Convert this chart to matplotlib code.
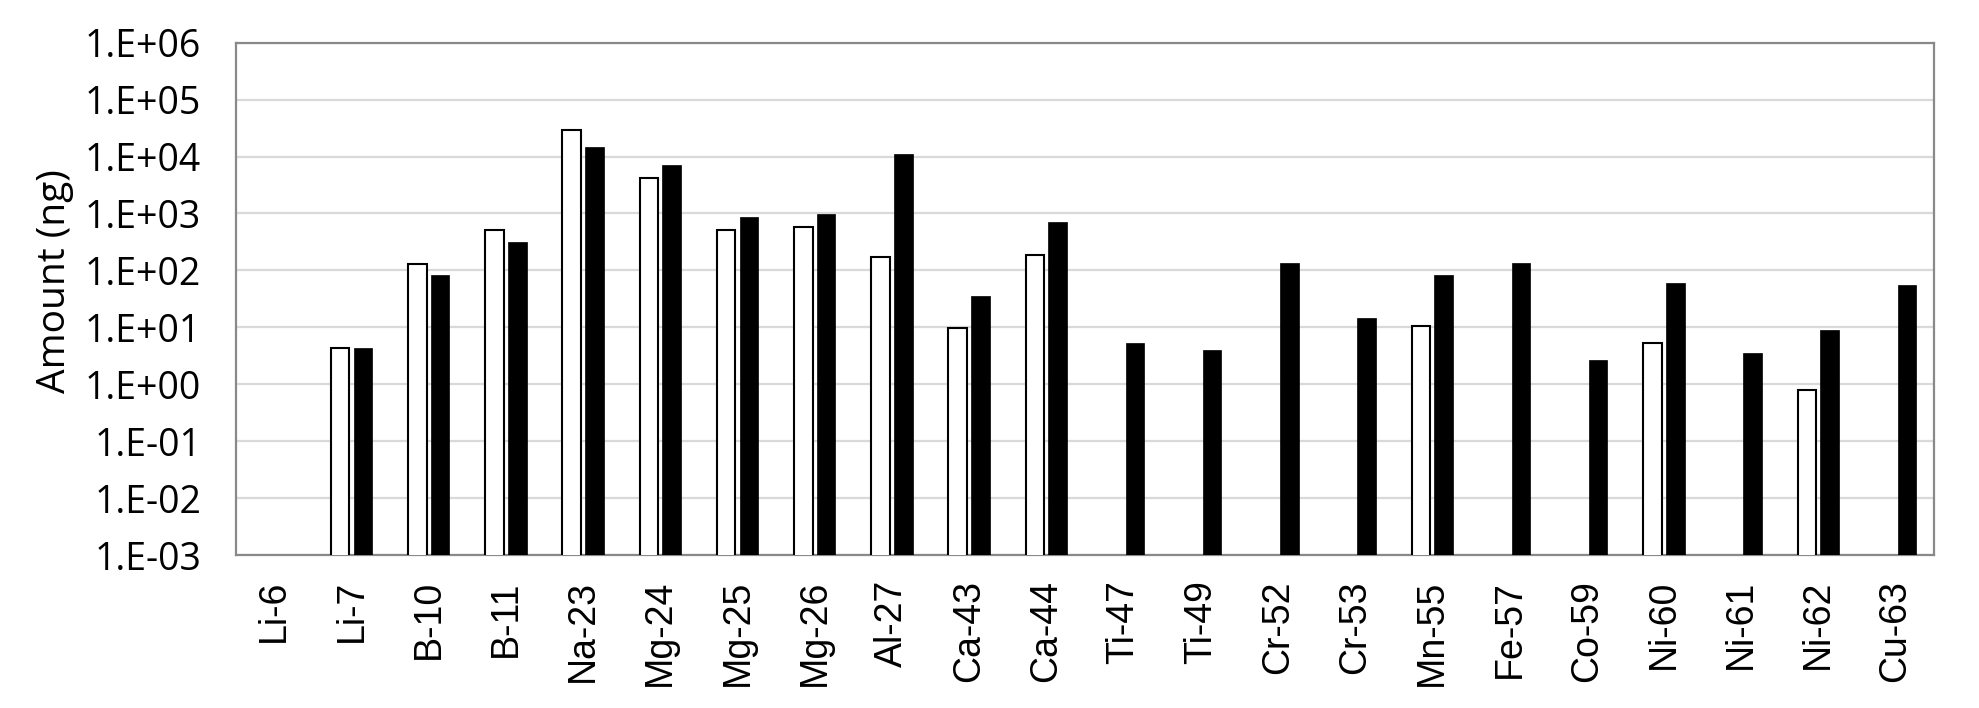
import numpy as np
import matplotlib
matplotlib.use('Agg')
import matplotlib.pyplot as plt
from matplotlib.ticker import FixedLocator, FuncFormatter, NullLocator

nan = np.nan

isotopes = ['Li-6', 'Li-7', 'B-10', 'B-11', 'Na-23', 'Mg-24', 'Mg-25', 'Mg-26',
            'Al-27', 'Ca-43', 'Ca-44', 'Ti-47', 'Ti-49', 'Cr-52', 'Cr-53', 'Mn-55',
            'Fe-57', 'Co-59', 'Ni-60', 'Ni-61', 'Ni-62', 'Cu-63']

# open (white) bars
white = [nan, 4.3, 132, 520, 29500, 4200, 520, 575, 174, 9.7, 188,
         nan, nan, nan, nan, 10.6, nan, nan, 5.2, nan, 0.78, nan]
# filled (black) bars
black = [nan, 4.3, 83, 316, 14800, 7200, 880, 970, 11000, 36, 720,
         5.3, 3.95, 137, 14.7, 83, 137, 2.7, 61, 3.55, 8.9, 55]

fig = plt.figure(figsize=(19.79, 7.08), dpi=100)
ax = fig.add_axes([0.1191, 0.2161, 0.8582, 0.7236])

x = np.arange(len(isotopes))
w = 0.24
ax.bar(x - 0.148, white, w, color='white', edgecolor='black', linewidth=1.5, zorder=3)
ax.bar(x + 0.148, black, w, color='black', edgecolor='black', linewidth=0.5, zorder=3)

ax.set_yscale('log')
ax.set_ylim(1e-3, 1e6)
ax.set_xlim(-0.5, len(isotopes) - 0.5)

ax.yaxis.set_major_locator(FixedLocator([10.0 ** k for k in range(-3, 7)]))
ax.yaxis.set_minor_locator(NullLocator())
ax.yaxis.set_major_formatter(FuncFormatter(lambda v, p: '1.E%+03d' % int(round(np.log10(v)))))
ax.grid(axis='y', color='#d9d9d9', linewidth=1.6, zorder=0)

ax.set_xticks(x)
ax.set_xticklabels(isotopes, rotation=90, fontsize=27, family='Liberation Sans', va='top')
for lab in ax.get_yticklabels():
    lab.set_fontfamily('Open Sans')
    lab.set_fontsize(27)
ax.tick_params(axis='x', length=0, pad=18)
ax.tick_params(axis='y', length=0, pad=25)

ax.set_ylabel('Amount (ng)', fontsize=28, family='Open Sans')
ax.yaxis.set_label_coords(-0.0955, 0.535)

for sp in ax.spines.values():
    sp.set_color('#898989')
    sp.set_linewidth(1.6)

plt.savefig('out.png', dpi=100)
